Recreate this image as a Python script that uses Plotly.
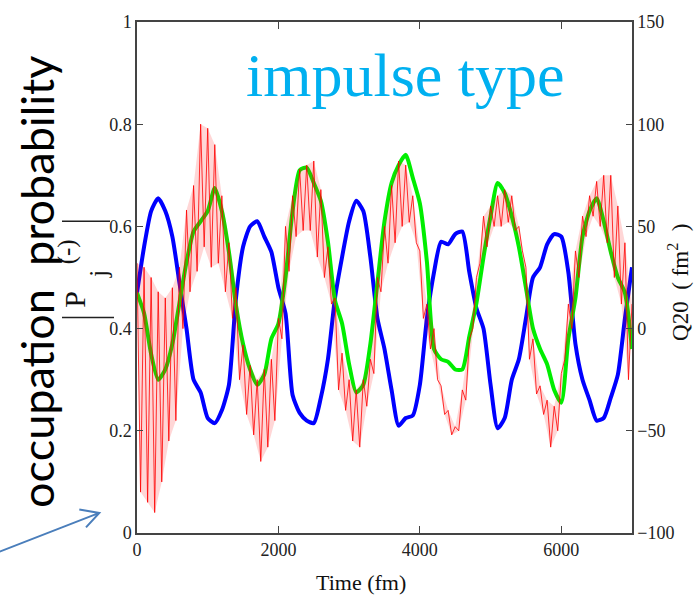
import plotly.graph_objects as go

# ---------------- data ----------------
time_fm = list(range(0, 7001, 100))          # sample grid of the smooth curves (fm)

# occupation probabilities (left axis)
blue_p = [0.47, 0.56, 0.63, 0.655, 0.63, 0.58, 0.49, 0.40, 0.30, 0.275,
          0.225, 0.215, 0.24, 0.29, 0.46, 0.56, 0.60, 0.61, 0.58, 0.55,
          0.48, 0.43, 0.27, 0.235, 0.22, 0.215, 0.265, 0.34, 0.46, 0.54,
          0.61, 0.65, 0.63, 0.54, 0.42, 0.36, 0.28, 0.21, 0.225, 0.23,
          0.29, 0.42, 0.51, 0.57, 0.565, 0.585, 0.59, 0.51, 0.44, 0.40,
          0.29, 0.205, 0.225, 0.30, 0.34, 0.42, 0.50, 0.52, 0.565, 0.585,
          0.58, 0.51, 0.37, 0.30, 0.26, 0.22, 0.225, 0.265, 0.31, 0.42,
          0.52]

green_p = [0.47, 0.43, 0.35, 0.30, 0.32, 0.37, 0.45, 0.53, 0.59, 0.61,
           0.63, 0.675, 0.63, 0.55, 0.445, 0.37, 0.32, 0.29, 0.31, 0.38,
           0.41, 0.50, 0.63, 0.71, 0.715, 0.685, 0.65, 0.57, 0.455, 0.41,
           0.33, 0.275, 0.29, 0.37, 0.49, 0.61, 0.685, 0.72, 0.74, 0.695,
           0.645, 0.53, 0.36, 0.34, 0.335, 0.32, 0.32, 0.385, 0.45, 0.54,
           0.62, 0.685, 0.665, 0.62, 0.56, 0.48, 0.40, 0.36, 0.33, 0.28,
           0.255, 0.38, 0.46, 0.58, 0.63, 0.655, 0.61, 0.55, 0.50, 0.47,
           0.36]

# Q20 (right axis): fast oscillation read as upper crests and lower troughs
q20_crest_t = list(range(0, 7001, 100))
q20_crest = [32, 30, 25, 18, 15, 20, 30, 58, 70, 100,
             98, 90, 65, 42, 20, -8, -18, -25, -20, -15,
             5, 50, 65, 78, 80, 82, 68, 40, 15, -12,
             -25, -30, -25, -15, 25, 50, 70, 82, 80, 65,
             38, 12, 0, -28, -40, -48, -30, -5, 25, 55,
             60, 65, 68, 65, 50, 30, -5, -28, -35, -38,
             -22, 12, 38, 55, 65, 72, 75, 75, 60, 42,
             12]
q20_trough_t = list(range(50, 7000, 100))
q20_trough = [-80, -85, -90, -75, -55, -45, 0, 18, 28, 40,
              30, 32, 18, 5, -25, -42, -52, -65, -58, -45,
              -5, 28, 45, 48, 48, 35, 25, 12, -30, -40,
              -55, -58, -38, -22, 18, 32, 42, 50, 52, 42,
              5, -10, -25, -42, -52, -50, -35, 0, 32, 40,
              50, 50, 52, 48, 38, -15, -32, -42, -58, -50,
              -15, 0, 25, 45, 55, 50, 42, 25, 12, -25]

x_ticks = [0, 2000, 4000, 6000]
left_ticks = [0, 0.2, 0.4, 0.6, 0.8, 1]
left_tick_text = ["0", "0.2", "0.4", "0.6", "0.8", "1"]
right_ticks = [-100, -50, 0, 50, 100, 150]

# ---------------- figure ----------------
red_t, red_q = [], []
for i in range(len(q20_trough)):
    red_t += [q20_crest_t[i], q20_trough_t[i]]
    red_q += [q20_crest[i], q20_trough[i]]
red_t.append(q20_crest_t[-1])
red_q.append(q20_crest[-1])

fig = go.Figure()
fig.add_trace(go.Scatter(x=time_fm, y=blue_p, mode="lines", yaxis="y",
                         line=dict(color="#0000FF", width=4, shape="spline", smoothing=0.6)))
fig.add_trace(go.Scatter(x=time_fm, y=green_p, mode="lines", yaxis="y",
                         line=dict(color="#00EE00", width=4, shape="spline", smoothing=0.6)))
fig.add_trace(go.Scatter(x=q20_crest_t + q20_trough_t[::-1], y=q20_crest + q20_trough[::-1],
                         mode="lines", fill="toself", fillcolor="rgba(255,0,0,0.16)",
                         line=dict(width=0), yaxis="y2"))
fig.add_trace(go.Scatter(x=red_t, y=red_q, mode="lines", yaxis="y2",
                         line=dict(color="rgba(255,0,0,0.8)", width=1)))

axcol = "#444444"
tickfont = dict(family="Liberation Serif", size=18, color="#222222")

L, R, T, B = 137, 63, 16, 67
W, H = 695, 600
pw, ph = W - L - R, H - T - B


def px(xp):
    return (xp - L) / pw


def py(yp):
    return (H - B - yp) / ph


fig.update_layout(
    width=W, height=H,
    margin=dict(l=L, r=R, t=T, b=B),
    paper_bgcolor="white", plot_bgcolor="white",
    showlegend=False,
    xaxis=dict(range=[0, 7000], tickvals=x_ticks, ticks="inside", ticklen=7,
               tickcolor=axcol, showline=True, linecolor=axcol, linewidth=1.5,
               mirror="ticks", showgrid=False, zeroline=False, tickfont=tickfont),
    yaxis=dict(range=[0, 1], tickvals=left_ticks, ticktext=left_tick_text,
               ticks="inside", ticklen=6, tickcolor=axcol, showline=True,
               linecolor=axcol, linewidth=1.5, showgrid=False, zeroline=False,
               tickfont=tickfont),
    yaxis2=dict(range=[-100, 150], tickvals=right_ticks, overlaying="y", side="right",
                ticks="inside", ticklen=6, tickcolor=axcol, showline=True,
                linecolor=axcol, linewidth=1.5, showgrid=False, zeroline=False,
                tickfont=tickfont),
)


def note(text, xp, yp, size, family="Liberation Serif", color="#111111", angle=0):
    return dict(text=text, x=px(xp), y=py(yp), xref="paper", yref="paper",
                xanchor="center", yanchor="middle", textangle=angle, showarrow=False,
                font=dict(family=family, size=size, color=color))


ann = [
    note("impulse type", 405, 70, 62, color="#00B0F0"),
    note("Time (fm)", 361, 583, 22),
    note("Q20  ( fm<sup>2</sup>  )", 679, 280, 23, angle=-90),
    note("occupation  probability", 37, 279, 45, family="Lato", color="#000000", angle=-90),
    note("P", 75, 297, 30, angle=-90),
    note("j", 98, 271, 26, angle=-90),
    note("(-)", 67, 249, 25, angle=-90),
]
fig.update_layout(annotations=ann)

shapes = [
    dict(type="line", xref="paper", yref="paper", x0=px(62), x1=px(110), y0=py(217.7), y1=py(217.7),
         line=dict(color="#222222", width=1.5)),
    dict(type="line", xref="paper", yref="paper", x0=px(62), x1=px(114), y0=py(315), y1=py(315),
         line=dict(color="#222222", width=1.5)),
    dict(type="path", xref="paper", yref="paper",
         path=f"M {px(-5)} {py(553.7)} L {px(99.3)} {py(512.7)} "
              f"M {px(79.3)} {py(509.3)} L {px(99.3)} {py(512.7)} L {px(86)} {py(527.3)}",
         line=dict(color="#4A7EBB", width=2)),
]
fig.update_layout(shapes=shapes)

fig.write_html("out.html")
